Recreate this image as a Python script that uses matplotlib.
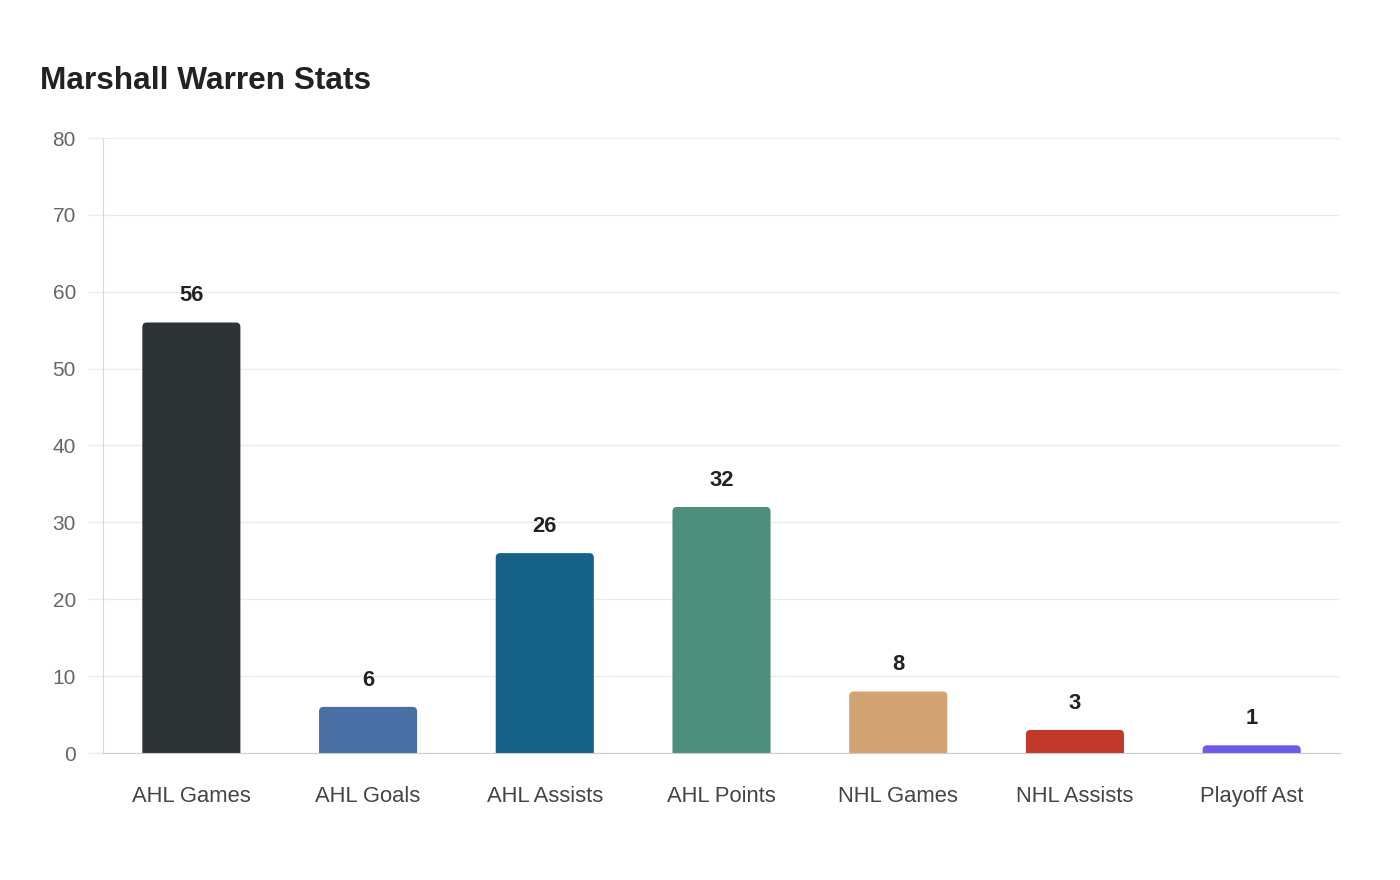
import matplotlib
matplotlib.use("Agg")
import matplotlib.pyplot as plt
from matplotlib.path import Path
from matplotlib.patches import PathPatch

categories = ["AHL Games", "AHL Goals", "AHL Assists", "AHL Points", "NHL Games", "NHL Assists", "Playoff Ast"]
values = [56, 6, 26, 32, 8, 3, 1]
colors = ["#2d3436", "#4a6fa5", "#176289", "#4e8e7c", "#d4a373", "#c0392b", "#6c5ce7"]
title = "Marshall Warren Stats"
yticks = [0, 10, 20, 30, 40, 50, 60, 70, 80]

plt.rcParams['font.family'] = ['Liberation Sans', 'DejaVu Sans']

fig = plt.figure(figsize=(14, 8.8), dpi=100)
ax = fig.add_axes([103/1400, 1-753/880, (1340-103)/1400, (753-138)/880])
n = len(categories)
ax.set_xlim(-0.5, n - 0.5)
ax.set_ylim(0, 80)

bw = 0.555
px_x = (1340-103) / n
px_y = (753-138) / 80
rpx = 4.5
for i, (v, c) in enumerate(zip(values, colors)):
    x0, x1 = i - bw/2, i + bw/2
    rx = rpx / px_x
    ry = min(rpx / px_y, v)
    verts = [(x0, 0), (x0, v - ry), (x0, v), (x0 + rx, v), (x1 - rx, v), (x1, v), (x1, v - ry), (x1, 0), (x0, 0)]
    codes = [Path.MOVETO, Path.LINETO, Path.CURVE3, Path.CURVE3, Path.LINETO, Path.CURVE3, Path.CURVE3, Path.LINETO, Path.CLOSEPOLY]
    ax.add_patch(PathPatch(Path(verts, codes), facecolor=c, edgecolor='none', zorder=3))
    ax.annotate(str(v), (i, v), xytext=(0, 19.3), textcoords='offset points', ha='center', va='center',
                fontsize=15.8, fontweight='bold', color='#222222', zorder=4)

ax.set_yticks(yticks)
ax.set_xticks(range(n))
ax.set_xticklabels(categories, fontsize=15.8, color='#444444')
ax.tick_params(axis='x', length=0, pad=23.5)
ax.tick_params(axis='y', length=11, color='#ebebeb', width=1, labelsize=15, labelcolor='#666666', pad=8.5)
ax.grid(axis='y', color='#ebebeb', linewidth=1, zorder=0)
for s in ['top', 'right']:
    ax.spines[s].set_visible(False)
ax.spines['left'].set_color('#d9d9d9')
ax.spines['bottom'].set_color('#cccccc')
ax.spines['bottom'].set_zorder(5)

fig.text(40/1400, 1-81/880, title, fontsize=22.8, fontweight='bold', color='#222222', ha='left', va='center')

fig.savefig("out.png", dpi=100, facecolor='white')
